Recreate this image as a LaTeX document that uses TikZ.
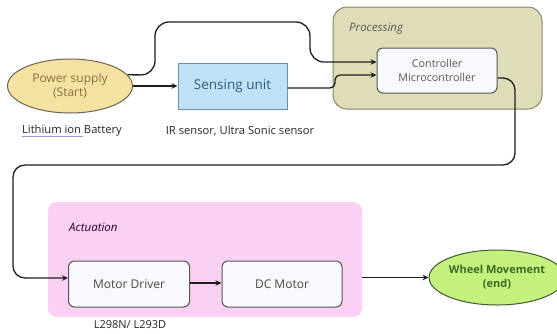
\documentclass[tikz,border=0pt]{standalone}
\usepackage{fontspec}
\setmainfont{Open Sans}
\usetikzlibrary{shapes.geometric,arrows.meta}

\definecolor{psfill}{HTML}{F5E2A2}
\definecolor{psdraw}{HTML}{6B6350}
\definecolor{pstext}{HTML}{8A6D3B}
\definecolor{snfill}{HTML}{BFE1F5}
\definecolor{sndraw}{HTML}{6D8FA8}
\definecolor{sntext}{HTML}{2D5A7B}
\definecolor{prfill}{HTML}{DEDDB8}
\definecolor{prdraw}{HTML}{86866A}
\definecolor{boxfill}{HTML}{F7F9FD}
\definecolor{boxdraw}{HTML}{555555}
\definecolor{acfill}{HTML}{FAD1F3}
\definecolor{whfill}{HTML}{C4F07E}
\definecolor{whdraw}{HTML}{3F5A2E}
\definecolor{whtext}{HTML}{3B6B1F}
\definecolor{wire}{HTML}{1E1E1E}

\tikzset{
  terminal/.style={ellipse, inner sep=0pt, line width=1pt, align=center},
  groupbox/.style={rounded corners=14pt, line width=1pt},
  blockbox/.style={rectangle, rounded corners=6pt, draw=boxdraw, fill=boxfill,
    line width=1pt, minimum width=121pt, minimum height=46pt, align=center, inner sep=0pt},
  note/.style={font=\fontsize{11.2}{13}\selectfont, text=black!85},
  grouptitle/.style={anchor=west, font=\fontsize{11.5}{13}\selectfont\itshape},
  wire/.style={draw=wire, line width=1.3pt, -{Stealth[length=6pt,width=5.5pt]}},
}

\begin{document}
\begin{tikzpicture}[x=1pt, y=-1pt]
  \useasboundingbox (0,0) rectangle (557,333);

  % group backgrounds
  \node[groupbox, draw=prdraw, fill=prfill, minimum width=209pt, minimum height=102pt,
        inner sep=0pt] (proc) at (437.5,58) {};
  \node[grouptitle, text=black!65, inner sep=0pt] (proctitle) at (349,29) {Processing};
  \node[rectangle, rounded corners=9pt, fill=acfill, minimum width=314pt,
        minimum height=115pt, inner sep=0pt] (act) at (205,259.5) {};
  \node[grouptitle, text=black!70!violet, inner sep=0pt] (acttitle) at (69,227) {Actuation};

  % start and end terminals
  \node[terminal, draw=psdraw, fill=psfill, text=pstext,
        minimum width=125pt, minimum height=54pt,
        font=\fontsize{12}{14.5}\selectfont] (power) at (70,86) {Power supply\\(Start)};
  \node[terminal, draw=whdraw, fill=whfill, text=whtext,
        minimum width=120pt, minimum height=55pt,
        font=\fontsize{11}{14}\selectfont\bfseries] (wheel) at (497,277.5) {Wheel Movement\\(end)};

  % blocks
  \node[rectangle, draw=sndraw, fill=snfill, text=sntext, line width=1pt,
        minimum width=109pt, minimum height=46pt, inner sep=0pt,
        font=\fontsize{13.5}{15}\selectfont] (sense) at (232.5,86) {Sensing unit};
  \node[blockbox, minimum width=120pt, minimum height=45pt, text=black!65,
        font=\fontsize{10.8}{13.5}\selectfont] (ctrl) at (437,70.5) {Controller\\Microcontroller};
  \node[blockbox, text=black!72, font=\fontsize{12}{14}\selectfont] (md) at (129,284) {Motor Driver};
  \node[blockbox, minimum width=120pt, text=black!72, font=\fontsize{12}{14}\selectfont] (dc) at (282,284) {DC Motor};

  % notes under the blocks
  \node[note, inner sep=0pt] (bat) at (72,131) {Lithium ion Battery};
  \node[note] (ir) at (240,131) {IR sensor, Ultra Sonic sensor};
  \node[note, font=\fontsize{11}{13}\selectfont] (drv) at (130,325) {L298N/ L293D};
  \draw[draw=blue!40!gray!55, line width=1pt]
    ([yshift=-2.5pt]bat.base west) -- ++(61,0);

  % connectors
  \draw[wire] (power.east) -- (sense.west);
  \draw[wire, rounded corners=14pt] (power.11) -- (155,75) -- (155,22) -- (310,22)
    -- (310,62) -- ([yshift=8.5pt]ctrl.west);
  \draw[wire, rounded corners=5pt] ([yshift=-2pt]sense.east) -- (335,88) -- (335,75)
    -- ([yshift=-4.5pt]ctrl.west);
  \draw[wire, rounded corners=12pt] ([yshift=-7.5pt]ctrl.east) -- (515,78) -- (515,165)
    -- (13,165) -- (13,278) -- ([yshift=6pt]md.west);
  \draw[wire] ([yshift=1pt]md.east) -- ([yshift=1pt]dc.west);
  \draw[wire] (act.east |- wheel.west) -- (wheel.west);
\end{tikzpicture}
\end{document}
